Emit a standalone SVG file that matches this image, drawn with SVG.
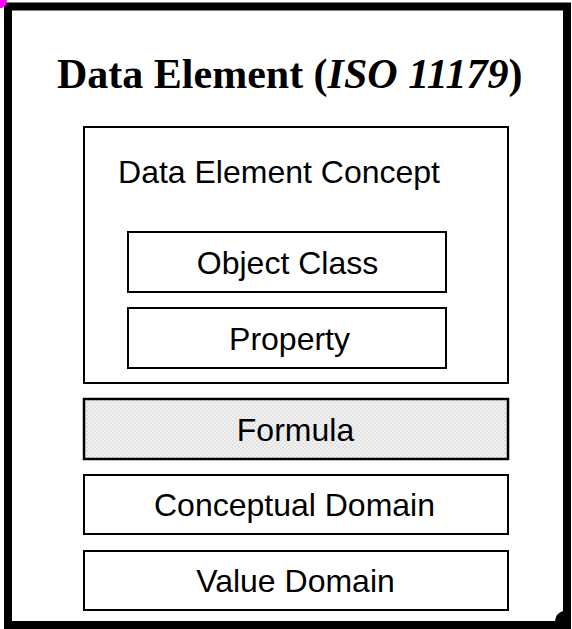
<svg xmlns="http://www.w3.org/2000/svg" width="572" height="629" viewBox="0 0 572 629">
  <style>
    .box { fill: #ffffff; stroke: #000000; stroke-width: 2; }
    .lbl { font-family: "Liberation Sans", Arial, sans-serif; font-size: 32px; fill: #000000; text-anchor: middle; }
    .title { font-family: "Liberation Serif", "Times New Roman", serif; font-size: 42px; font-weight: bold; fill: #000000; }
  </style>
  <defs>
    <pattern id="dots" width="4" height="4" patternUnits="userSpaceOnUse">
      <rect width="4" height="4" fill="#f2f2f2"/>
      <rect x="0" y="0" width="2" height="2" fill="#e2e2e2"/>
      <rect x="2" y="2" width="2" height="2" fill="#e2e2e2"/>
    </pattern>
  </defs>
  <rect x="0" y="0" width="572" height="629" fill="#ffffff"/>
  <g id="frame">
    <rect x="8" y="6.5" width="559" height="618.5" fill="#ffffff" stroke="#000000" stroke-width="8"/>
    <path d="M555,621 Q556,613 563,611 L563,621 Z" fill="#000000"/>
    <polygon points="0,0 7,0 6,5 2,8 0,8" fill="#ff00ff"/>
  </g>
  <g id="title">
    <text class="title" x="57" y="88">Data Element (<tspan font-style="italic">ISO 11179</tspan>)</text>
  </g>
  <g id="data-element-concept">
    <rect class="box" x="84" y="127" width="424" height="256"/>
    <text class="lbl" x="279" y="183">Data Element Concept</text>
  </g>
  <g id="object-class">
    <rect class="box" x="128" y="232" width="318" height="60"/>
    <text class="lbl" x="287.5" y="273.5">Object Class</text>
  </g>
  <g id="property">
    <rect class="box" x="128" y="308" width="318" height="60"/>
    <text class="lbl" x="289.5" y="349.5">Property</text>
  </g>
  <g id="formula">
    <rect x="84" y="399" width="424" height="60" fill="url(#dots)" stroke="#000000" stroke-width="2.5"/>
    <text class="lbl" x="295.5" y="440.5">Formula</text>
  </g>
  <g id="conceptual-domain">
    <rect class="box" x="84" y="475" width="424" height="59"/>
    <text class="lbl" x="294.5" y="516">Conceptual Domain</text>
  </g>
  <g id="value-domain">
    <rect class="box" x="84" y="551" width="424" height="59"/>
    <text class="lbl" x="295.5" y="592">Value Domain</text>
  </g>
  <g id="connectors"/>
</svg>
